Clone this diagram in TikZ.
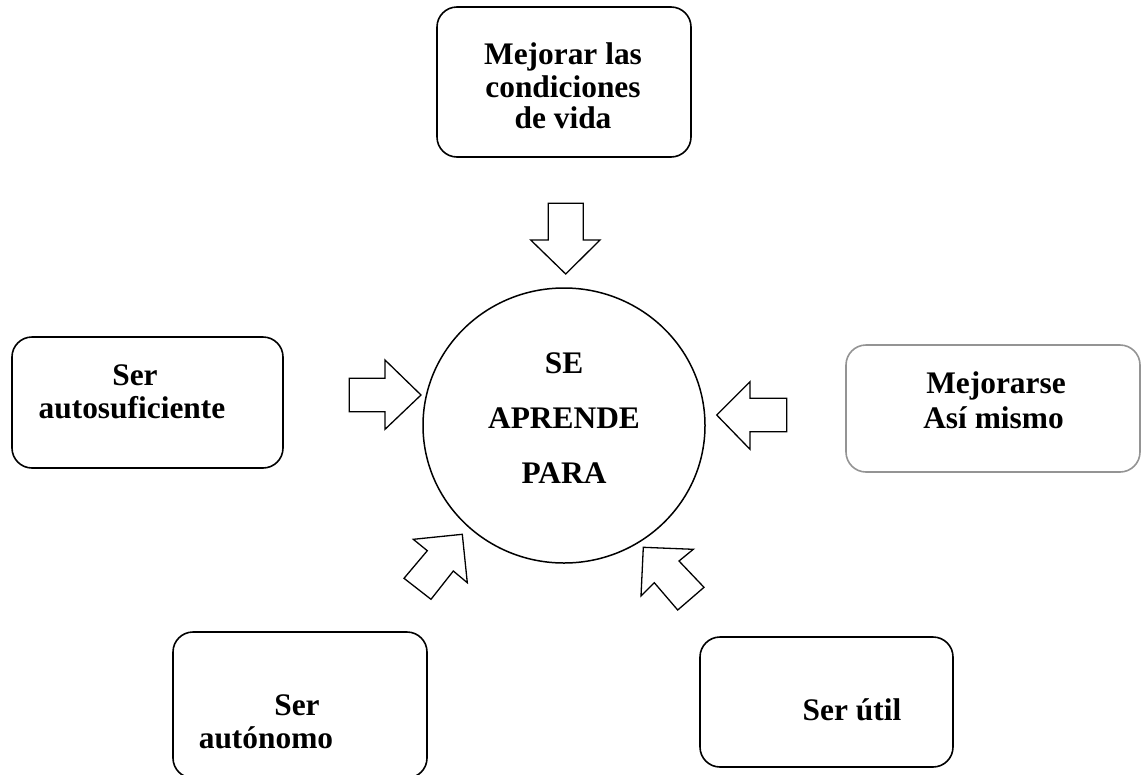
\documentclass[tikz,border=0pt]{standalone}
\usepackage{fontspec}
\setmainfont{Liberation Serif}
\begin{document}
\begin{tikzpicture}[x=1pt,y=-1pt,
  box/.style={draw=black,line width=1.6pt,rounded corners=20pt,inner sep=0pt},
  graybox/.style={draw=black!42,line width=1.6pt,rounded corners=20pt,inner sep=0pt},
  hub/.style={draw=black,line width=1.5pt,ellipse,inner sep=0pt},
  blockarrow/.style={draw=black,line width=1.3pt,fill=white,line join=miter},
  txt/.style={anchor=base,inner sep=0pt,font=\bfseries\fontsize{31.4}{36}\selectfont}]
\clip (0,0) rectangle (1142,774);
\fill[white] (0,0) rectangle (1142,774);
% boxes
\node[box,minimum width=254pt,minimum height=150pt] (top) at (564,82) {};
\node[box,minimum width=271pt,minimum height=131pt] (left) at (147.5,402.5) {};
\node[graybox,minimum width=294pt,minimum height=127pt] (right) at (993,408.5) {};
\node[box,minimum width=254pt,minimum height=146pt] (bl) at (300,705) {};
\node[box,minimum width=253pt,minimum height=130pt] (br) at (826.5,702) {};
% hub
\draw[line width=1.5pt] (564,425.5) ellipse [x radius=141, y radius=137.5];
\coordinate (hub) at (564,425.5);
% texts
\node[txt] (t1) at (563,64) {Mejorar las};
\node[txt] (t2) at (563,97) {condiciones};
\node[txt] (t3) at (563,128) {de vida};
\node[txt] (l1) at (135,385) {Ser};
\node[txt] (l2) at (132,418) {autosuficiente};
\node[txt] (r1) at (996,393) {Mejorarse};
\node[txt] (r2) at (993.5,428) {Así mismo};
\node[txt] (c1) at (564,373) {SE};
\node[txt] (c2) at (564,428) {APRENDE};
\node[txt] (c3) at (564,483) {PARA};
\node[txt] (b1) at (297,715) {Ser};
\node[txt] (b2) at (266,748) {autónomo};
\node[txt] (s1) at (852,720) {Ser útil};
% block arrows
\draw[blockarrow] (548.3,203.3) -- (583.3,203.3) -- (583.3,240) -- (600,240) -- (565.7,274)
  -- (530.7,240) -- (548.3,240) -- cycle;
\draw[blockarrow] (349.3,378.3) -- (385,378.3) -- (385,360) -- (421,395) -- (385,429.3)
  -- (385,411.7) -- (349.3,411.7) -- cycle;
\draw[blockarrow] (786.7,398.3) -- (750,398.3) -- (750,381.7) -- (716.7,415) -- (750,449.3)
  -- (750,431.7) -- (786.7,431.7) -- cycle;
\draw[blockarrow] (413.3,539.3) -- (462.3,534.3) -- (467.3,582.7) -- (453.3,571)
  -- (431,599.3) -- (404,578.3) -- (427.3,550.7) -- cycle;
\draw[blockarrow] (643.3,547.3) -- (693.3,549.3) -- (679,561) -- (704,587.3)
  -- (677.7,610) -- (654.3,582.7) -- (641,596) -- cycle;
\end{tikzpicture}
\end{document}
